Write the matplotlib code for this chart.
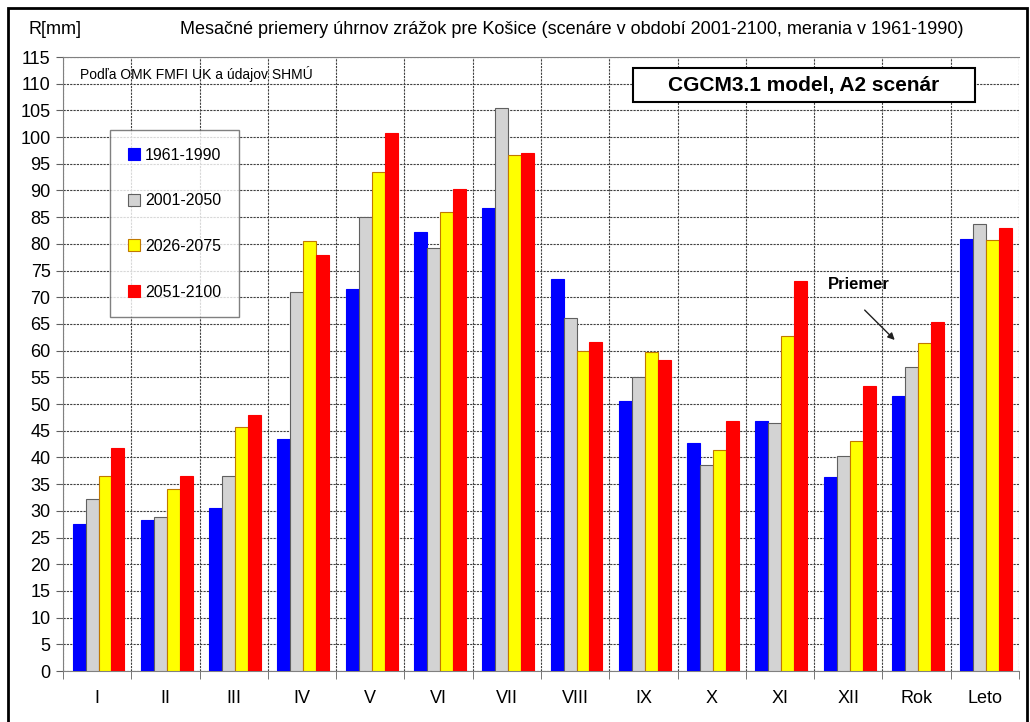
import numpy as np
import matplotlib
matplotlib.use("Agg")
import matplotlib.pyplot as plt
from matplotlib.patches import Rectangle

plt.rcParams['font.family'] = ['Liberation Sans', 'DejaVu Sans']

categories = ['I', 'II', 'III', 'IV', 'V', 'VI', 'VII', 'VIII', 'IX', 'X', 'XI', 'XII', 'Rok', 'Leto']
series_names = ['1961-1990', '2001-2050', '2026-2075', '2051-2100']

r_1961_1990 = [27.5, 28.2, 30.5, 43.5, 71.5, 82.2, 86.8, 73.5, 50.6, 42.7, 46.8, 36.3, 51.6, 81.0]
r_2001_2050 = [32.3, 28.8, 36.5, 71.0, 85.0, 79.2, 105.5, 66.2, 55.0, 38.6, 46.4, 40.2, 57.0, 83.7]
r_2026_2075 = [36.5, 34.0, 45.7, 80.5, 93.5, 86.0, 96.7, 60.0, 59.8, 41.3, 62.7, 43.0, 61.5, 80.8]
r_2051_2100 = [41.7, 36.5, 48.0, 78.0, 100.7, 90.3, 97.0, 61.7, 58.3, 46.8, 73.0, 53.3, 65.4, 83.0]

y_ticks = list(range(0, 116, 5))

colors = ['#0000ff', '#d3d3d3', '#ffff00', '#ff0000']
edges = ['#0000ff', '#606060', '#c07800', '#ff0000']

fig = plt.figure(figsize=(10.3, 7.22), dpi=100)
ax = fig.add_axes([63/1030, 51/722, 956/1030, 614/722])

x = np.arange(len(categories))
w = 0.19
data = [r_1961_1990, r_2001_2050, r_2026_2075, r_2051_2100]
for i, vals in enumerate(data):
    ax.bar(x + (i - 1.5) * w + 0.02, vals, w, color=colors[i], edgecolor=edges[i],
           linewidth=0.8, label=series_names[i], zorder=3)

ax.set_xlim(-0.5, len(categories) - 0.5)
ax.set_ylim(0, 115)
ax.set_yticks(y_ticks)
ax.set_yticklabels([str(v) for v in y_ticks], fontsize=13)
ax.set_xticks(x)
ax.set_xticklabels(categories, fontsize=13)
ax.set_xticks(np.arange(-0.5, len(categories)), minor=True)
ax.tick_params(axis='x', which='major', length=0, pad=14)
ax.tick_params(axis='x', which='minor', length=6, color='#606060')
ax.tick_params(axis='y', length=5, color='#606060', pad=4)

ax.grid(True, axis='y', which='major', linestyle=(0, (2, 1)), color='#404040', linewidth=0.8, zorder=0)
ax.grid(True, axis='x', which='minor', linestyle=(0, (2, 1)), color='#404040', linewidth=0.8, zorder=0)
ax.grid(False, axis='x', which='major')

for s in ['left', 'bottom', 'top']:
    ax.spines[s].set_color('#808080')
ax.spines['right'].set_visible(False)

leg = ax.legend(loc='upper left', bbox_to_anchor=(47/956, 541/614), fontsize=11.5,
                frameon=True, fancybox=False, edgecolor='#606060', labelspacing=1.92,
                handlelength=0.8, handleheight=0.8, handletextpad=0.3,
                borderpad=1.1, borderaxespad=0)
leg.get_frame().set_linewidth(1.0)

fig.text(28/1030, 1 - 30/722, 'R[mm]', fontsize=13, va='center', ha='left')
fig.text(572/1030, 1 - 30/722,
         'Mesačné priemery úhrnov zrážok pre Košice (scenáre v období 2001-2100, merania v 1961-1990)',
         fontsize=13, va='center', ha='center')
ax.text(17/956, 1 - 17/614, 'Podľa OMK FMFI UK a údajov SHMÚ', transform=ax.transAxes,
        fontsize=10, va='center', ha='left', zorder=5)

# model box
ax.add_patch(Rectangle(((633 - 63)/956, 1 - 45/614), 342/956, 34/614, transform=ax.transAxes,
                       facecolor='white', edgecolor='black', linewidth=1.5, zorder=5))
ax.text((804 - 63)/956, 1 - 28/614, 'CGCM3.1 model, A2 scenár', transform=ax.transAxes,
        fontsize=15, fontweight='bold', va='center', ha='center', zorder=6)

ax.text(10.70, 72.3, 'Priemer', fontsize=12, fontweight='bold', ha='left', va='center', zorder=5)
ax.annotate('', xy=(11.68, 62.0), xytext=(11.24, 67.6), zorder=5,
            arrowprops=dict(arrowstyle='-|>', color='#202020', lw=1.0, shrinkA=0, shrinkB=0,
                            mutation_scale=10))

fig.add_artist(Rectangle((8/1030, -0.01), 1019/1030, 1 - 8/722 + 0.01, transform=fig.transFigure,
                         fill=False, edgecolor='black', linewidth=2))

fig.savefig('out.png', dpi=100)
